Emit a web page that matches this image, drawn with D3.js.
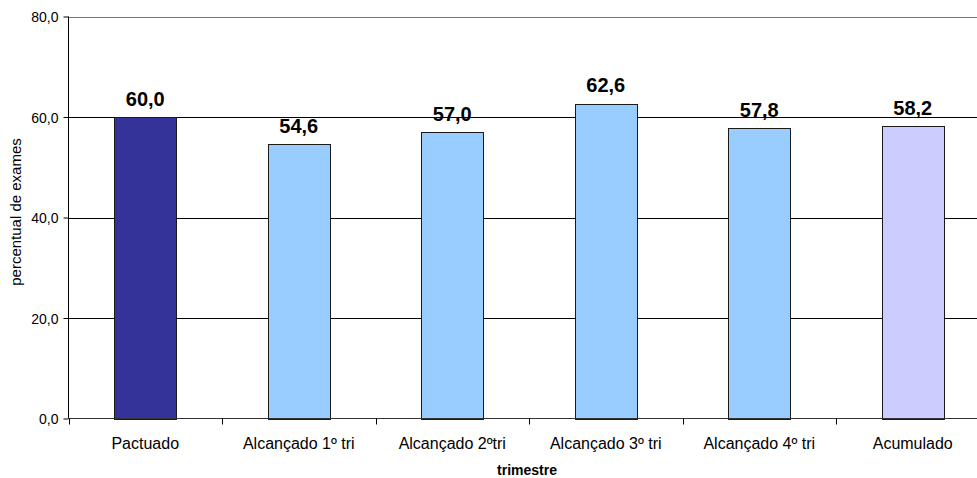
<!DOCTYPE html>
<html>
<head>
<meta charset="utf-8">
<script src="https://cdn.jsdelivr.net/npm/d3@7"></script>
<style>
  html, body { margin: 0; padding: 0; background: #fff; }
  svg { display: block; font-family: "Liberation Sans", Arial, sans-serif; }
</style>
</head>
<body>
<svg id="chart" width="977" height="478"></svg>
<script>
// Exames realizados por trimestre
const categories = ["Pactuado", "Alcançado 1º tri", "Alcançado 2ºtri", "Alcançado 3º tri", "Alcançado 4º tri", "Acumulado"];
const values = [60.0, 54.6, 57.0, 62.6, 57.8, 58.2];
const barColors = ["#333399", "#99CCFF", "#99CCFF", "#99CCFF", "#99CCFF", "#CCCCFF"];
const yTicks = [0, 20, 40, 60, 80];
const yTitle = "percentual de exames";
const xTitle = "trimestre";

const fmt = v => d3.format(".1f")(v).replace(".", ",");

const svg = d3.select("#chart");
const plotLeft = 68.5, plotRight = 989.5, plotTop = 16.5, plotBottom = 418.5;

const x = d3.scaleBand()
  .domain(categories)
  .range([plotLeft, plotRight])
  .paddingInner(0.596)
  .paddingOuter(0.298);

const y = d3.scaleLinear().domain([0, 80]).range([plotBottom, plotTop]);

// horizontal gridlines
svg.append("g")
  .selectAll("line")
  .data(yTicks.filter(t => t > 0))
  .join("line")
  .attr("x1", plotLeft).attr("x2", 977)
  .attr("y1", d => Math.round(y(d)) + 0.5).attr("y2", d => Math.round(y(d)) + 0.5)
  .attr("stroke", d => d === 80 ? "#777" : "#000")
  .attr("stroke-width", 1);

// bars
svg.append("g")
  .selectAll("rect")
  .data(values)
  .join("rect")
  .attr("x", (d, i) => Math.round(x(categories[i])) + 0.5)
  .attr("width", Math.round(x.bandwidth()))
  .attr("y", d => Math.round(y(d)) + 0.5)
  .attr("height", d => Math.round(plotBottom) - Math.round(y(d)))
  .attr("fill", (d, i) => barColors[i])
  .attr("stroke", "#1a1a1a")
  .attr("stroke-width", 1);

// value labels
svg.append("g")
  .selectAll("text")
  .data(values)
  .join("text")
  .attr("x", (d, i) => x(categories[i]) + x.bandwidth() / 2)
  .attr("y", d => y(d) - 11.5)
  .attr("text-anchor", "middle")
  .attr("font-size", "20px")
  .attr("font-weight", "bold")
  .attr("fill", "#000")
  .text(d => fmt(d));

// y axis
const yAxis = svg.append("g")
  .attr("transform", `translate(${plotLeft},0)`)
  .call(d3.axisLeft(y).tickValues(yTicks).tickFormat(fmt).tickSize(5).tickPadding(5));
yAxis.select(".domain").attr("stroke", "#000").attr("d", `M0,${plotTop}V${plotBottom}`);
yAxis.selectAll(".tick line").attr("stroke", "#000");
yAxis.selectAll(".tick text")
  .attr("font-size", "14px")
  .attr("font-family", "Liberation Sans, Arial, sans-serif")
  .attr("fill", "#000")
  .attr("dy", "0.36em");

// x axis baseline and tick marks at category boundaries
const step = x.step();
const boundaries = d3.range(categories.length + 1).map(i => plotLeft + i * step);
svg.append("line")
  .attr("x1", plotLeft).attr("x2", 977)
  .attr("y1", plotBottom).attr("y2", plotBottom)
  .attr("stroke", "#333");
svg.append("g")
  .selectAll("line")
  .data(boundaries)
  .join("line")
  .attr("x1", d => Math.round(d) + 0.5).attr("x2", d => Math.round(d) + 0.5)
  .attr("y1", plotBottom).attr("y2", plotBottom + 6)
  .attr("stroke", "#000");

// category labels
svg.append("g")
  .selectAll("text")
  .data(categories)
  .join("text")
  .attr("x", d => x(d) + x.bandwidth() / 2)
  .attr("y", 449)
  .attr("text-anchor", "middle")
  .attr("font-size", "16px")
  .attr("fill", "#000")
  .text(d => d);

// axis titles
svg.append("text")
  .attr("x", 527).attr("y", 475)
  .attr("text-anchor", "middle")
  .attr("font-size", "14px")
  .attr("font-weight", "bold")
  .attr("fill", "#000")
  .text(xTitle);

svg.append("text")
  .attr("transform", "translate(21,212) rotate(-90)")
  .attr("text-anchor", "middle")
  .attr("font-size", "15px")
  .attr("fill", "#000")
  .text(yTitle);
</script>
</body>
</html>
